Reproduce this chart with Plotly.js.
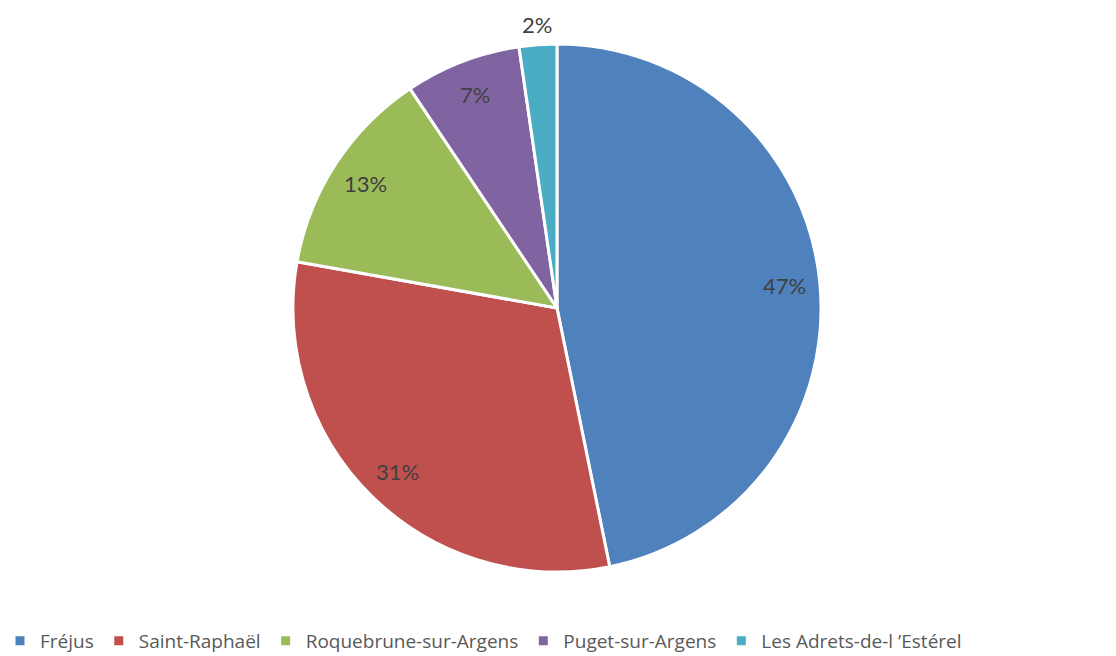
<!DOCTYPE html>
<html>
<head>
<meta charset="utf-8">
<script src="https://cdn.plot.ly/plotly-3.0.1.min.js"></script>
<style>
html,body{margin:0;padding:0;background:#fff;}
#chart{width:1116px;height:656px;}
</style>
</head>
<body>
<div id="chart"></div>
<script>
const communes = ["Fréjus", "Saint-Raphaël", "Roquebrune-sur-Argens", "Puget-sur-Argens", "Les Adrets-de-l ’Estérel"];
const shares = [46.8, 31.0, 12.8, 7.1, 2.3];
const colors = ["#4F81BD", "#C0504D", "#9BBB59", "#8064A2", "#4BACC6"];
const labelInside = [true, true, true, true, false];

const W = 1116, H = 656;

const trace = {
  type: "pie",
  labels: communes,
  values: shares,
  sort: false,
  direction: "clockwise",
  rotation: 0,
  marker: {colors: colors, line: {color: "#ffffff", width: 3}},
  textinfo: "none",
  automargin: false,
  hoverinfo: "label+percent",
  domain: {x: [0.2625, 0.7357], y: [0.128, 0.933]}
};

const layout = {
  width: W,
  height: H,
  margin: {l: 0, r: 0, t: 0, b: 0, autoexpand: false},
  paper_bgcolor: "#ffffff",
  showlegend: true,
  legend: {
    orientation: "h",
    x: 0.0,
    xanchor: "left",
    y: -0.006,
    yanchor: "bottom",
    font: {family: "'Open Sans', sans-serif", size: 19, color: "#595959"},
    itemclick: false
  }
};

const gd = document.getElementById("chart");
Plotly.newPlot(gd, [trace], layout, {displayModeBar: false, staticPlot: true}).then(function () {
  const cd = gd.calcdata[0][0];
  const cx = cd.cx, cy = cd.cy, r = cd.r;
  const total = shares.reduce((a, b) => a + b, 0);
  let cum = 0;
  const annotations = shares.map(function (v, i) {
    const mid = (cum + v / 2) / total * 2 * Math.PI;
    cum += v;
    const k = labelInside[i] ? 0.865 : 1.075;
    const px = cx + k * r * Math.sin(mid);
    const py = cy - k * r * Math.cos(mid);
    return {
      xref: "paper", yref: "paper",
      x: px / W, y: 1 - py / H,
      xanchor: "center", yanchor: "middle",
      text: Math.round(v / total * 100) + "%",
      showarrow: false,
      font: {family: "Lato, sans-serif", size: 22, color: "#404040"}
    };
  });
  return Plotly.relayout(gd, {annotations: annotations});
});
</script>
</body>
</html>
